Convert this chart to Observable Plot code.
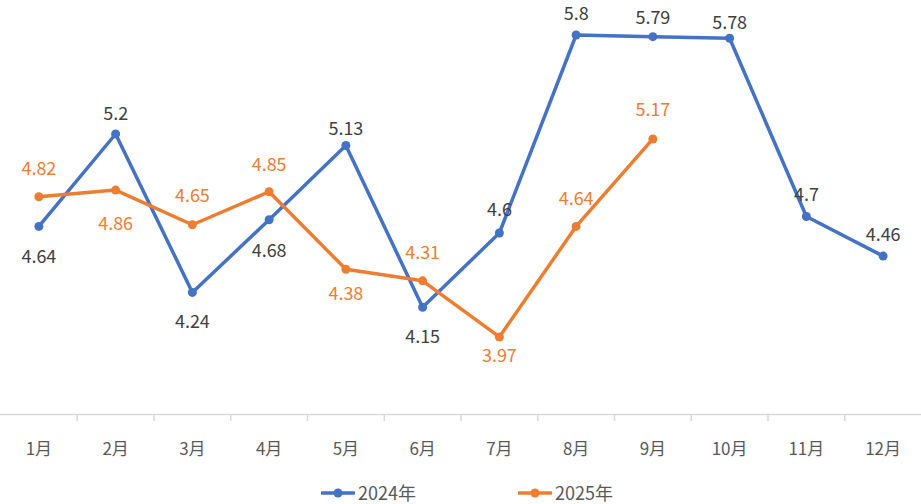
<!DOCTYPE html>
<html>
<head>
<meta charset="utf-8">
<script src="https://cdn.jsdelivr.net/npm/d3@7"></script>
<script src="https://cdn.jsdelivr.net/npm/@observablehq/plot@0.6"></script>
<style>
  html, body { margin: 0; padding: 0; background: #fff; }
  body { width: 921px; height: 504px; overflow: hidden; font-family: "Noto Sans CJK SC", "Noto Sans", sans-serif; }
  #legend { position: relative; height: 34px; width: 921px; }
  .item { position: absolute; top: 12px; height: 21px; line-height: 21px; display: flex; align-items: center; font-size: 18px; color: #595959; }
  .item svg { margin-right: 3px; }
</style>
</head>
<body>
<div id="chart"></div>
<div id="legend"></div>
<script>
const months = ["1月","2月","3月","4月","5月","6月","7月","8月","9月","10月","11月","12月"];
const values2024 = [4.64, 5.2, 4.24, 4.68, 5.13, 4.15, 4.6, 5.8, 5.79, 5.78, 4.7, 4.46];
const values2025 = [4.82, 4.86, 4.65, 4.85, 4.38, 4.31, 3.97, 4.64, 5.17];
const seriesNames = ["2024年", "2025年"];

const colors = {"2024年": "#4472C4", "2025年": "#ED7D31"};
// label vertical offsets (pixels) as placed in the reference
const labelDy2024 = [31, -20, 30, 31, -16, 30, -23, -21, -18, -15, -21, -21];
const labelDy2025 = [-27, 34, -29, -27, 25, -28, 19, -27, -29];

const rows = [];
values2024.forEach((v, i) => rows.push({series: seriesNames[0], m: i + 1, v, dy: labelDy2024[i]}));
values2025.forEach((v, i) => rows.push({series: seriesNames[1], m: i + 1, v, dy: labelDy2025[i]}));

const boundaries = d3.range(1, months.length).map(i => i + 0.5);

const labelMarks = rows.map(d => Plot.text([d], {
  x: "m", y: "v", text: d => String(d.v), dy: d.dy,
  fill: d.series === seriesNames[0] ? "#404040" : colors[seriesNames[1]],
  fontSize: 18
}));

const chart = Plot.plot({
  width: 921,
  height: 470,
  marginLeft: 0,
  marginRight: 0,
  marginTop: 1.5,
  marginBottom: 56,
  style: {fontFamily: '"Noto Sans CJK SC", "Noto Sans", sans-serif', background: "#fff"},
  x: {type: "linear", domain: [0.5, months.length + 0.5], axis: null},
  y: {domain: [3.5, 6], axis: null},
  marks: [
    Plot.ruleY([3.5], {stroke: "#D9D9D9", strokeWidth: 1.5}),
    Plot.ruleX(boundaries, {x: d => d, y1: 3.5, y2: 3.5, insetBottom: -7, stroke: "#D9D9D9", strokeWidth: 1.5}),
    Plot.axisX(d3.range(1, months.length + 1), {
      tickSize: 0, tickPadding: 28, tickFormat: i => months[i - 1],
      fontSize: 17, fill: "#595959", label: null
    }),
    Plot.line(rows, {x: "m", y: "v", z: "series", stroke: d => colors[d.series], strokeWidth: 3.5, strokeLinejoin: "round"}),
    Plot.dot(rows, {x: "m", y: "v", fill: d => colors[d.series], r: 4.5}),
    ...labelMarks
  ]
});
document.getElementById("chart").appendChild(chart);

const legend = document.getElementById("legend");
const legendLeft = [321, 518];
seriesNames.forEach((name, i) => {
  const item = document.createElement("div");
  item.className = "item";
  item.style.left = legendLeft[i] + "px";
  item.innerHTML = `<svg width="34" height="12"><line x1="1" y1="6" x2="33" y2="6" stroke="${colors[name]}" stroke-width="3.5" stroke-linecap="round"/><circle cx="17" cy="6" r="4.5" fill="${colors[name]}"/></svg><span>${name}</span>`;
  legend.appendChild(item);
});
</script>
</body>
</html>
